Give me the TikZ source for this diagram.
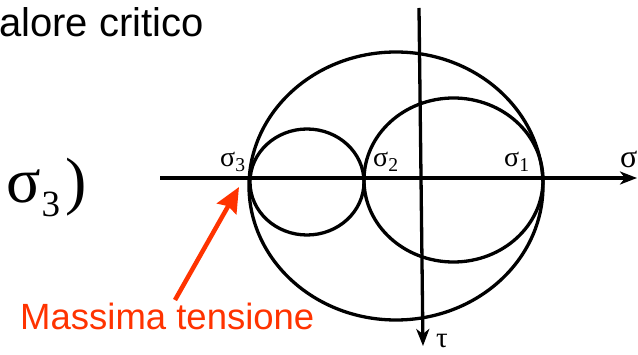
\documentclass[tikz,border=0pt]{standalone}
\usepackage{fontspec}
\setmainfont{Liberation Sans}
\newfontfamily\grk{Liberation Serif}
\usetikzlibrary{arrows.meta}
\definecolor{rosso}{HTML}{FF3300}

\begin{document}
\begin{tikzpicture}[x=1pt,y=-1pt,
  mohr/.style={line width=3.3pt},
  asse/.style={line width=3.3pt,-{Stealth[length=17pt,width=13pt,inset=5pt]}},
  sig/.style={inner sep=0pt,anchor=base west,font=\grk\fontsize{28}{28}\selectfont}]
\useasboundingbox (0,0) rectangle (638,355);
% text cut from the slide
\node[inner sep=0pt,anchor=base west,font=\fontsize{40}{40}\selectfont] (titolo) at (-1,37) {alore critico};
\node[inner sep=0pt,anchor=base west,font=\grk\fontsize{64}{64}\selectfont] (formula) at (6,203)
  {σ\kern1pt\raisebox{-14pt}{\fontsize{37}{37}\selectfont 3}\kern5pt)};
% Mohr circles
\draw[mohr] (396,186) ellipse [x radius=147pt, y radius=134pt];
\draw[mohr] (307,182) ellipse [x radius=57pt, y radius=53pt];
\draw[mohr] (453.5,180) ellipse [x radius=89.5pt, y radius=82pt];
% axes
\coordinate (sa) at (160,178);
\coordinate (sb) at (637,178);
\coordinate (ta) at (419,8);
\coordinate (tb) at (423,346);
\draw[asse] (sa) -- (sb);
\draw[asse] (ta) -- (tb);
\node[sig] (s3) at (220,167) {σ\textsubscript{3}};
\node[sig] (s2) at (373,167) {σ\textsubscript{2}};
\node[sig] (s1) at (504,167) {σ\textsubscript{1}};
\node[sig,font=\grk\fontsize{32}{32}\selectfont] (sasse) at (620,168) {σ};
\node[sig,font=\grk\fontsize{29}{29}\selectfont] (tasse) at (436,348) {τ};
% label and arrow
\node[inner sep=0pt,anchor=base west,text=rosso,font=\fontsize{36.5}{36.5}\selectfont] (massima) at (20,330) {Massima tensione};
\coordinate (punta) at (239,187);
\draw[rosso,line width=4.5pt,-{Stealth[length=25pt,width=22pt,inset=3pt]}] (175,300) -- (punta);
\end{tikzpicture}
\end{document}
